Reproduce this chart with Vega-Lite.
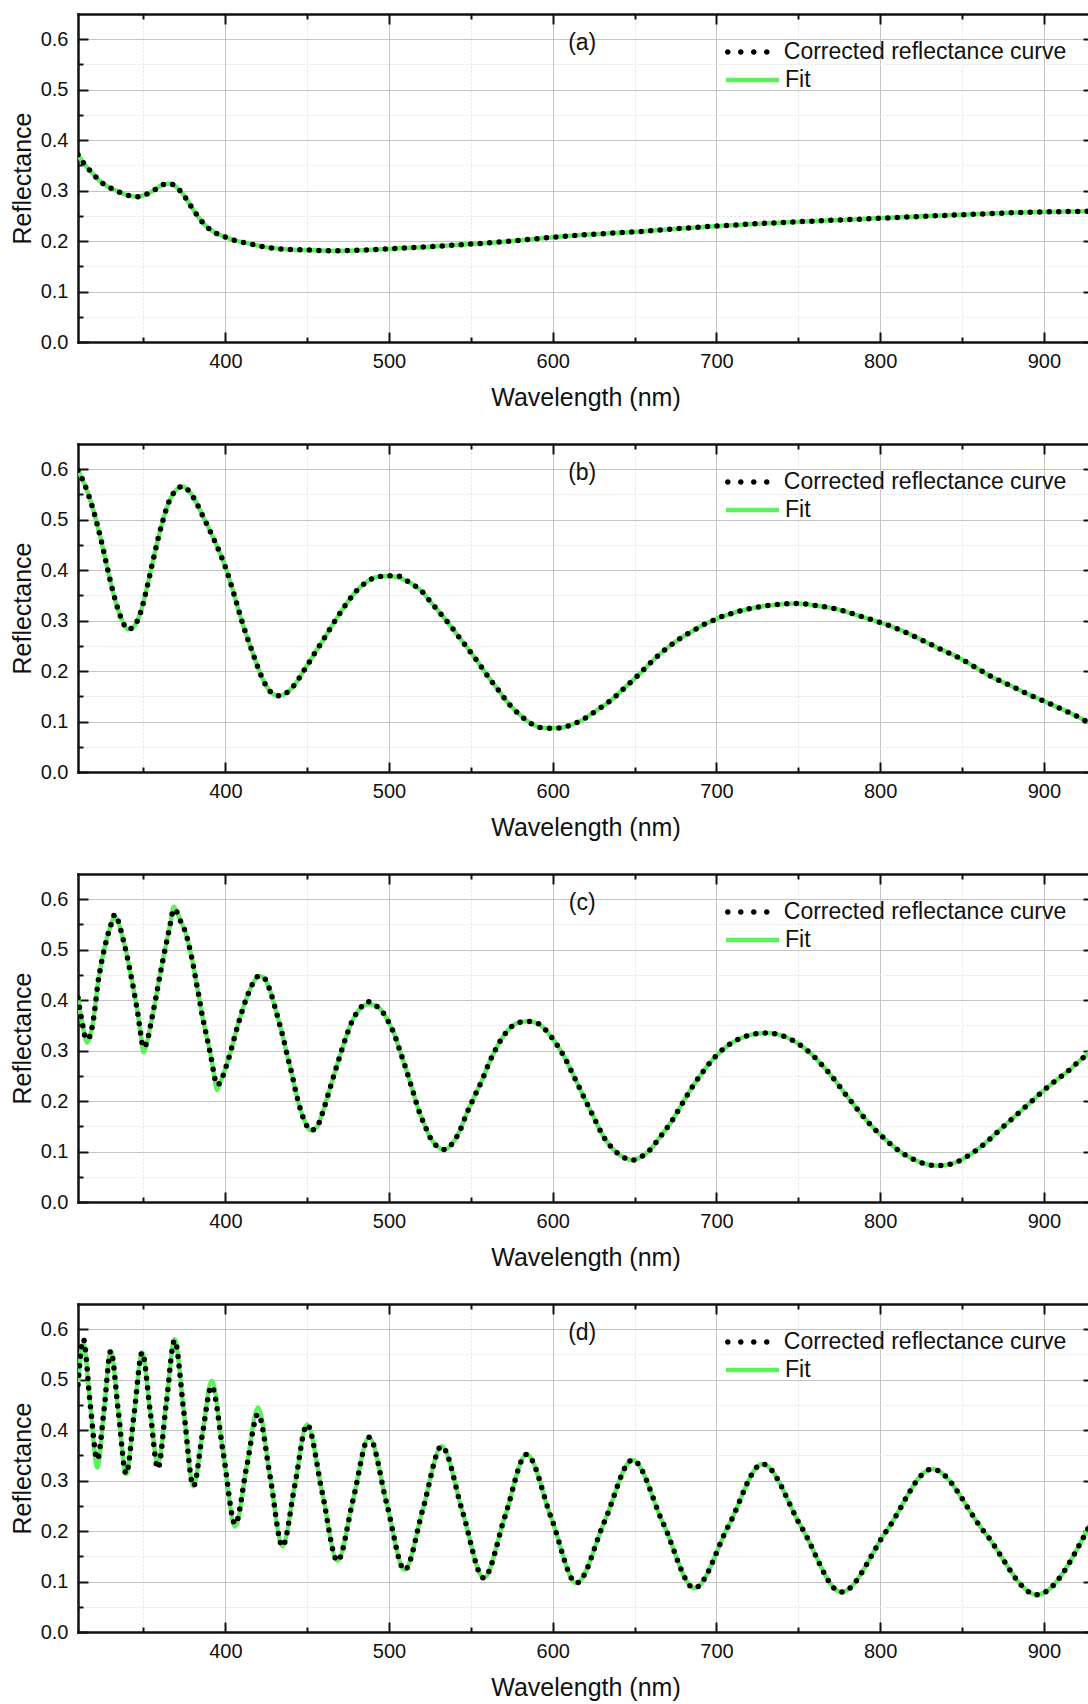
{
  "$schema": "https://vega.github.io/schema/vega-lite/v6.json",
  "background": "white",
  "padding": {"left": 10, "top": 13, "right": 0, "bottom": 0},
  "spacing": 102,
  "bounds": "flush",
  "datasets": {
    "a": [
      {"wl":310,"m":0.371,"f":0.371},{"wl":314,"m":0.352,"f":0.352},{"wl":318.6,"m":0.335,"f":0.335},{"wl":323,"m":0.32,"f":0.32},
      {"wl":328.8,"m":0.307,"f":0.307},{"wl":334,"m":0.299,"f":0.299},{"wl":339,"m":0.292,"f":0.292},{"wl":346,"m":0.288,"f":0.288},
      {"wl":352,"m":0.293,"f":0.293},{"wl":357,"m":0.302,"f":0.302},{"wl":361.3,"m":0.311,"f":0.311},{"wl":366,"m":0.314,"f":0.314},
      {"wl":370.5,"m":0.306,"f":0.306},{"wl":375.6,"m":0.286,"f":0.286},{"wl":379.6,"m":0.266,"f":0.266},{"wl":383.7,"m":0.247,"f":0.247},
      {"wl":387.5,"m":0.232,"f":0.232},{"wl":391.9,"m":0.22,"f":0.22},{"wl":396,"m":0.213,"f":0.213},{"wl":400,"m":0.208,"f":0.208},
      {"wl":406,"m":0.201,"f":0.201},{"wl":413.2,"m":0.196,"f":0.196},{"wl":424.5,"m":0.188,"f":0.188},{"wl":436,"m":0.184,"f":0.184},
      {"wl":453,"m":0.182,"f":0.182},{"wl":465,"m":0.181,"f":0.181},{"wl":484,"m":0.182,"f":0.182},{"wl":502,"m":0.185,"f":0.185},
      {"wl":520,"m":0.188,"f":0.188},{"wl":550,"m":0.194,"f":0.194},{"wl":575,"m":0.2,"f":0.2},{"wl":591.5,"m":0.205,"f":0.205},
      {"wl":612.8,"m":0.211,"f":0.211},{"wl":651,"m":0.2185,"f":0.2185},{"wl":696,"m":0.229,"f":0.229},{"wl":741,"m":0.237,"f":0.237},
      {"wl":784,"m":0.243,"f":0.243},{"wl":805,"m":0.246,"f":0.246},{"wl":848,"m":0.252,"f":0.252},{"wl":890.6,"m":0.257,"f":0.257},
      {"wl":930,"m":0.259,"f":0.259}
    ],
    "b": [
      {"wl":310,"m":0.598,"f":0.598},{"wl":313,"m":0.578,"f":0.578},{"wl":316,"m":0.553,"f":0.553},{"wl":319,"m":0.523,"f":0.523},
      {"wl":322,"m":0.487,"f":0.487},{"wl":325,"m":0.447,"f":0.447},{"wl":328,"m":0.403,"f":0.403},{"wl":331,"m":0.362,"f":0.362},
      {"wl":334,"m":0.327,"f":0.327},{"wl":337,"m":0.3,"f":0.3},{"wl":340.4,"m":0.283,"f":0.283},{"wl":344,"m":0.288,"f":0.288},
      {"wl":348.1,"m":0.315,"f":0.315},{"wl":352.3,"m":0.368,"f":0.368},{"wl":355.5,"m":0.414,"f":0.414},{"wl":359.1,"m":0.465,"f":0.465},
      {"wl":362,"m":0.5,"f":0.5},{"wl":365.5,"m":0.535,"f":0.535},{"wl":369.4,"m":0.557,"f":0.557},{"wl":374,"m":0.566,"f":0.566},
      {"wl":378.9,"m":0.552,"f":0.552},{"wl":382.6,"m":0.532,"f":0.532},{"wl":385.7,"m":0.511,"f":0.511},{"wl":390,"m":0.482,"f":0.482},
      {"wl":393.2,"m":0.46,"f":0.46},{"wl":396.4,"m":0.436,"f":0.436},{"wl":399.6,"m":0.41,"f":0.41},{"wl":402.8,"m":0.379,"f":0.379},
      {"wl":405.5,"m":0.35,"f":0.35},{"wl":409.8,"m":0.302,"f":0.302},{"wl":413,"m":0.27,"f":0.27},{"wl":416.6,"m":0.237,"f":0.237},
      {"wl":419.8,"m":0.208,"f":0.208},{"wl":422,"m":0.19,"f":0.19},{"wl":425.1,"m":0.17,"f":0.17},{"wl":430,"m":0.153,"f":0.153},
      {"wl":433.5,"m":0.151,"f":0.151},{"wl":437,"m":0.156,"f":0.156},{"wl":440,"m":0.164,"f":0.164},{"wl":444.3,"m":0.182,"f":0.182},
      {"wl":448.5,"m":0.204,"f":0.204},{"wl":451.7,"m":0.22,"f":0.22},{"wl":454.9,"m":0.237,"f":0.237},{"wl":459.1,"m":0.258,"f":0.258},
      {"wl":463.4,"m":0.281,"f":0.281},{"wl":467.7,"m":0.303,"f":0.303},{"wl":473,"m":0.329,"f":0.329},{"wl":480.4,"m":0.36,"f":0.36},
      {"wl":485.7,"m":0.375,"f":0.375},{"wl":491,"m":0.385,"f":0.385},{"wl":496.4,"m":0.388,"f":0.388},{"wl":500.6,"m":0.389,"f":0.388},
      {"wl":505,"m":0.389,"f":0.386},{"wl":511.3,"m":0.378,"f":0.378},{"wl":516.6,"m":0.367,"f":0.367},{"wl":520.9,"m":0.355,"f":0.355},
      {"wl":525.1,"m":0.338,"f":0.338},{"wl":530.4,"m":0.318,"f":0.318},{"wl":534.7,"m":0.301,"f":0.301},{"wl":538.9,"m":0.284,"f":0.284},
      {"wl":542.1,"m":0.27,"f":0.27},{"wl":546.4,"m":0.252,"f":0.252},{"wl":550.6,"m":0.234,"f":0.234},{"wl":554.9,"m":0.215,"f":0.215},
      {"wl":558.1,"m":0.2,"f":0.2},{"wl":562.3,"m":0.181,"f":0.181},{"wl":566.6,"m":0.163,"f":0.163},{"wl":569.8,"m":0.149,"f":0.149},
      {"wl":574,"m":0.132,"f":0.132},{"wl":578.3,"m":0.118,"f":0.118},{"wl":583.6,"m":0.103,"f":0.103},{"wl":588.9,"m":0.092,"f":0.092},
      {"wl":594.3,"m":0.087,"f":0.087},{"wl":600.4,"m":0.0867,"f":0.0867},{"wl":606.8,"m":0.0887,"f":0.0887},{"wl":612.2,"m":0.095,"f":0.095},
      {"wl":617.5,"m":0.102,"f":0.102},{"wl":622.8,"m":0.113,"f":0.113},{"wl":628.1,"m":0.125,"f":0.125},{"wl":633.5,"m":0.137,"f":0.137},
      {"wl":637.7,"m":0.148,"f":0.148},{"wl":642,"m":0.161,"f":0.161},{"wl":646.3,"m":0.174,"f":0.174},{"wl":651.6,"m":0.19,"f":0.19},
      {"wl":655.9,"m":0.204,"f":0.204},{"wl":661.2,"m":0.221,"f":0.221},{"wl":665.5,"m":0.234,"f":0.234},{"wl":670.8,"m":0.248,"f":0.248},
      {"wl":676.1,"m":0.261,"f":0.261},{"wl":681.4,"m":0.272,"f":0.272},{"wl":685.7,"m":0.28,"f":0.28},{"wl":691,"m":0.29,"f":0.29},
      {"wl":696.4,"m":0.298,"f":0.298},{"wl":701.7,"m":0.306,"f":0.306},{"wl":708.1,"m":0.313,"f":0.313},{"wl":714.5,"m":0.319,"f":0.319},
      {"wl":720.9,"m":0.324,"f":0.324},{"wl":727.3,"m":0.328,"f":0.328},{"wl":738,"m":0.332,"f":0.332},{"wl":749.7,"m":0.334,"f":0.334},
      {"wl":761.4,"m":0.3295,"f":0.3295},{"wl":773.1,"m":0.323,"f":0.323},{"wl":783.8,"m":0.313,"f":0.313},{"wl":795.5,"m":0.301,"f":0.301},
      {"wl":804,"m":0.292,"f":0.292},{"wl":814.7,"m":0.278,"f":0.278},{"wl":826.4,"m":0.26,"f":0.26},{"wl":837.1,"m":0.243,"f":0.243},
      {"wl":847.7,"m":0.227,"f":0.227},{"wl":858.4,"m":0.207,"f":0.207},{"wl":869.1,"m":0.187,"f":0.187},{"wl":879.7,"m":0.171,"f":0.171},
      {"wl":890.4,"m":0.154,"f":0.154},{"wl":901.1,"m":0.139,"f":0.139},{"wl":911.7,"m":0.1235,"f":0.1235},{"wl":919.2,"m":0.112,"f":0.112},
      {"wl":925.2,"m":0.102,"f":0.102},{"wl":930,"m":0.095,"f":0.095}
    ],
    "c": [
      {"wl":310,"m":0.405,"f":0.405},{"wl":311.3,"m":0.378,"f":0.378},{"wl":312.8,"m":0.352,"f":0.352},{"wl":314,"m":0.331,"f":0.331},
      {"wl":315.6,"m":0.322,"f":0.316},{"wl":317.4,"m":0.33,"f":0.33},{"wl":319.1,"m":0.355,"f":0.355},{"wl":320.6,"m":0.39,"f":0.39},
      {"wl":322,"m":0.43,"f":0.43},{"wl":323.6,"m":0.462,"f":0.462},{"wl":325.3,"m":0.49,"f":0.49},{"wl":327.3,"m":0.518,"f":0.518},
      {"wl":329.8,"m":0.546,"f":0.546},{"wl":332.6,"m":0.57,"f":0.566},{"wl":335.2,"m":0.55,"f":0.55},{"wl":337.6,"m":0.52,"f":0.52},
      {"wl":339.6,"m":0.493,"f":0.493},{"wl":341.3,"m":0.466,"f":0.466},{"wl":343,"m":0.438,"f":0.438},{"wl":344.7,"m":0.408,"f":0.408},
      {"wl":346.6,"m":0.372,"f":0.372},{"wl":348.2,"m":0.335,"f":0.335},{"wl":350,"m":0.306,"f":0.297},{"wl":352.3,"m":0.319,"f":0.319},
      {"wl":354.3,"m":0.35,"f":0.35},{"wl":356,"m":0.378,"f":0.378},{"wl":357.6,"m":0.405,"f":0.405},{"wl":359.2,"m":0.434,"f":0.434},
      {"wl":360.9,"m":0.463,"f":0.463},{"wl":362.5,"m":0.49,"f":0.49},{"wl":364.3,"m":0.518,"f":0.518},{"wl":366.5,"m":0.553,"f":0.553},
      {"wl":368.4,"m":0.58,"f":0.585},{"wl":370.5,"m":0.574,"f":0.574},{"wl":372.5,"m":0.558,"f":0.558},{"wl":375.7,"m":0.534,"f":0.534},
      {"wl":377.6,"m":0.511,"f":0.511},{"wl":379.4,"m":0.485,"f":0.485},{"wl":381.1,"m":0.457,"f":0.457},{"wl":382.5,"m":0.431,"f":0.431},
      {"wl":384,"m":0.405,"f":0.405},{"wl":385.4,"m":0.378,"f":0.378},{"wl":387,"m":0.352,"f":0.352},{"wl":389,"m":0.322,"f":0.322},
      {"wl":391.1,"m":0.29,"f":0.29},{"wl":393,"m":0.255,"f":0.255},{"wl":394.9,"m":0.232,"f":0.222},{"wl":397,"m":0.238,"f":0.238},
      {"wl":399.6,"m":0.26,"f":0.26},{"wl":402.8,"m":0.293,"f":0.293},{"wl":406.4,"m":0.336,"f":0.336},{"wl":410.2,"m":0.378,"f":0.378},
      {"wl":413.4,"m":0.408,"f":0.408},{"wl":416.6,"m":0.432,"f":0.432},{"wl":420.5,"m":0.448,"f":0.448},{"wl":423.5,"m":0.445,"f":0.445},
      {"wl":425.5,"m":0.434,"f":0.434},{"wl":428,"m":0.412,"f":0.412},{"wl":430.4,"m":0.385,"f":0.385},{"wl":432.6,"m":0.359,"f":0.359},
      {"wl":435.3,"m":0.326,"f":0.326},{"wl":438,"m":0.288,"f":0.288},{"wl":440.4,"m":0.257,"f":0.257},{"wl":443,"m":0.219,"f":0.219},
      {"wl":446,"m":0.182,"f":0.182},{"wl":448.5,"m":0.16,"f":0.16},{"wl":452,"m":0.142,"f":0.142},{"wl":456,"m":0.149,"f":0.149},
      {"wl":459.1,"m":0.174,"f":0.174},{"wl":463.8,"m":0.224,"f":0.224},{"wl":468.1,"m":0.27,"f":0.27},{"wl":471,"m":0.3,"f":0.3},
      {"wl":474.7,"m":0.336,"f":0.336},{"wl":478,"m":0.362,"f":0.362},{"wl":481.5,"m":0.38,"f":0.38},{"wl":487.5,"m":0.397,"f":0.392},
      {"wl":492.1,"m":0.389,"f":0.389},{"wl":496.4,"m":0.375,"f":0.375},{"wl":500,"m":0.355,"f":0.355},{"wl":502.8,"m":0.336,"f":0.336},
      {"wl":507,"m":0.296,"f":0.296},{"wl":510.2,"m":0.265,"f":0.265},{"wl":514.5,"m":0.22,"f":0.22},{"wl":517.7,"m":0.186,"f":0.186},
      {"wl":521.9,"m":0.151,"f":0.151},{"wl":525.1,"m":0.128,"f":0.128},{"wl":529.4,"m":0.11,"f":0.11},{"wl":534,"m":0.104,"f":0.104},
      {"wl":538.9,"m":0.117,"f":0.117},{"wl":543.2,"m":0.141,"f":0.141},{"wl":547.4,"m":0.175,"f":0.175},{"wl":551.7,"m":0.206,"f":0.206},
      {"wl":557,"m":0.243,"f":0.243},{"wl":561.3,"m":0.277,"f":0.277},{"wl":565.5,"m":0.305,"f":0.305},{"wl":571.5,"m":0.336,"f":0.336},
      {"wl":577.2,"m":0.353,"f":0.353},{"wl":584,"m":0.358,"f":0.358},{"wl":590,"m":0.355,"f":0.355},{"wl":595.3,"m":0.342,"f":0.342},
      {"wl":599.4,"m":0.326,"f":0.326},{"wl":606.8,"m":0.289,"f":0.289},{"wl":613.2,"m":0.247,"f":0.247},{"wl":619.6,"m":0.204,"f":0.204},
      {"wl":625,"m":0.168,"f":0.168},{"wl":631.3,"m":0.128,"f":0.128},{"wl":637.7,"m":0.102,"f":0.102},{"wl":644.1,"m":0.087,"f":0.087},
      {"wl":648.4,"m":0.083,"f":0.083},{"wl":653.7,"m":0.089,"f":0.089},{"wl":659,"m":0.102,"f":0.102},{"wl":665.4,"m":0.128,"f":0.128},
      {"wl":671.8,"m":0.156,"f":0.156},{"wl":678.2,"m":0.19,"f":0.19},{"wl":684.6,"m":0.225,"f":0.225},{"wl":689.9,"m":0.25,"f":0.25},
      {"wl":698.4,"m":0.285,"f":0.285},{"wl":706.9,"m":0.31,"f":0.31},{"wl":714.4,"m":0.324,"f":0.324},{"wl":722,"m":0.332,"f":0.332},
      {"wl":731,"m":0.335,"f":0.335},{"wl":743.1,"m":0.326,"f":0.326},{"wl":754.8,"m":0.302,"f":0.302},{"wl":767.6,"m":0.26,"f":0.26},
      {"wl":780.4,"m":0.207,"f":0.207},{"wl":793.2,"m":0.156,"f":0.156},{"wl":803.8,"m":0.122,"f":0.122},{"wl":814.5,"m":0.095,"f":0.095},
      {"wl":825.1,"m":0.078,"f":0.078},{"wl":835,"m":0.072,"f":0.072},{"wl":844,"m":0.076,"f":0.076},{"wl":852,"m":0.088,"f":0.088},
      {"wl":862.4,"m":0.112,"f":0.112},{"wl":874.1,"m":0.146,"f":0.146},{"wl":885.8,"m":0.18,"f":0.18},{"wl":895.4,"m":0.208,"f":0.208},
      {"wl":903.9,"m":0.232,"f":0.232},{"wl":914.6,"m":0.259,"f":0.259},{"wl":924.8,"m":0.288,"f":0.288},{"wl":930,"m":0.3,"f":0.3}
    ],
    "d": [
      {"wl":310,"m":0.49,"f":0.49},{"wl":313.3,"m":0.58,"f":0.572},{"wl":317.5,"m":0.45,"f":0.45},{"wl":321.8,"m":0.342,"f":0.326},
      {"wl":325.9,"m":0.44,"f":0.44},{"wl":330,"m":0.557,"f":0.557},{"wl":334.7,"m":0.435,"f":0.435},{"wl":339.4,"m":0.313,"f":0.313},
      {"wl":344.3,"m":0.433,"f":0.433},{"wl":349.2,"m":0.554,"f":0.554},{"wl":354,"m":0.44,"f":0.44},{"wl":358.8,"m":0.324,"f":0.334},
      {"wl":363.9,"m":0.452,"f":0.452},{"wl":369,"m":0.578,"f":0.58},{"wl":374.7,"m":0.435,"f":0.435},{"wl":380.5,"m":0.289,"f":0.289},
      {"wl":386,"m":0.392,"f":0.392},{"wl":391.6,"m":0.487,"f":0.498},{"wl":398.8,"m":0.353,"f":0.353},{"wl":406,"m":0.214,"f":0.209},
      {"wl":413,"m":0.327,"f":0.327},{"wl":420,"m":0.432,"f":0.445},{"wl":427.4,"m":0.307,"f":0.307},{"wl":434.9,"m":0.17,"f":0.17},
      {"wl":442.4,"m":0.29,"f":0.29},{"wl":449.9,"m":0.411,"f":0.411},{"wl":459.2,"m":0.276,"f":0.276},{"wl":468.5,"m":0.141,"f":0.141},
      {"wl":478.1,"m":0.263,"f":0.263},{"wl":487.8,"m":0.386,"f":0.386},{"wl":498.6,"m":0.254,"f":0.254},{"wl":509.5,"m":0.123,"f":0.123},
      {"wl":520.8,"m":0.245,"f":0.245},{"wl":532.1,"m":0.368,"f":0.368},{"wl":545,"m":0.237,"f":0.237},{"wl":557.8,"m":0.107,"f":0.107},
      {"wl":570.9,"m":0.23,"f":0.23},{"wl":584,"m":0.352,"f":0.352},{"wl":599.2,"m":0.225,"f":0.225},{"wl":614.5,"m":0.097,"f":0.097},
      {"wl":631.6,"m":0.219,"f":0.219},{"wl":648.7,"m":0.341,"f":0.341},{"wl":667.6,"m":0.214,"f":0.214},{"wl":686.5,"m":0.087,"f":0.087},
      {"wl":707.3,"m":0.21,"f":0.21},{"wl":728.1,"m":0.333,"f":0.333},{"wl":752.2,"m":0.206,"f":0.206},{"wl":776.2,"m":0.079,"f":0.079},
      {"wl":804,"m":0.201,"f":0.201},{"wl":831.7,"m":0.323,"f":0.323},{"wl":863.7,"m":0.198,"f":0.198},{"wl":895.7,"m":0.074,"f":0.074},
      {"wl":926.3,"m":0.201,"f":0.201},{"wl":930,"m":0.225,"f":0.225}
    ]
  },
  "vconcat": [
    {
      "width": 1015, "height": 328,
      "data": {"name": "a"},
      "layer": [
        {
          "mark": {"type": "line", "interpolate": "monotone", "strokeWidth": 4.5, "strokeCap": "round", "clip": true},
          "encoding": {
            "x": {"field": "wl", "type": "quantitative", "scale": {"domain": [310, 930], "nice": false, "zero": false},
              "axis": {"orient": "bottom", "values": [350,400,450,500,550,600,650,700,750,800,850,900], "title": "Wavelength (nm)", "format": "d",
                "labelExpr": "datum.value % 100 === 0 ? datum.label : ''", "grid": true,
                "gridColor": {"condition": {"test": "datum.value % 100 === 0", "value": "#c4c4c4"}, "value": "#e3e3e3"},
                "gridDash": {"condition": {"test": "datum.value % 100 === 0", "value": []}, "value": [2, 2]},
                "tickSize": {"condition": {"test": "datum.value % 100 === 0", "value": -10}, "value": -5},
                "labelPadding": 19.5, "titlePadding": 9}},
            "y": {"field": "f", "type": "quantitative", "scale": {"domain": [0, 0.65], "nice": false, "zero": false},
              "axis": {"orient": "left", "values": [0,0.05,0.1,0.15,0.2,0.25,0.3,0.35,0.4,0.45,0.5,0.55,0.6], "title": "Reflectance", "format": ".1f",
                "labelExpr": "abs(datum.value*10-round(datum.value*10)) < 0.01 ? datum.label : ''", "grid": true,
                "gridColor": {"condition": {"test": "abs(datum.value*10-round(datum.value*10)) < 0.01", "value": "#c4c4c4"}, "value": "#e3e3e3"},
                "gridDash": {"condition": {"test": "abs(datum.value*10-round(datum.value*10)) < 0.01", "value": []}, "value": [2, 2]},
                "tickSize": {"condition": {"test": "abs(datum.value*10-round(datum.value*10)) < 0.01", "value": -10}, "value": -5},
                "labelPadding": 20, "titlePadding": 5}},
            "color": {"datum": "Fit", "type": "nominal", "scale": {"range": ["#5cf25c"]},
              "legend": {"orient": "none", "legendX": 645.5, "legendY": 37, "title": null, "padding": 0, "labelLimit": 0,
                "symbolType": "stroke", "symbolSize": 2809, "symbolStrokeWidth": 4.5, "symbolOffset": 0, "labelOffset": 3.5}}
          }
        },
        {
          "mark": {"type": "line", "interpolate": "monotone", "strokeWidth": 5.5, "strokeCap": "round", "strokeDash": [0, 9.5], "clip": true},
          "encoding": {
            "x": {"field": "wl", "type": "quantitative",
              "axis": {"orient": "top", "values": [350,400,450,500,550,600,650,700,750,800,850,900], "labels": false, "grid": false, "title": null,
                "tickSize": {"condition": {"test": "datum.value % 100 === 0", "value": -10}, "value": -5}}},
            "y": {"field": "m", "type": "quantitative",
              "axis": {"orient": "right", "values": [0,0.05,0.1,0.15,0.2,0.25,0.3,0.35,0.4,0.45,0.5,0.55,0.6], "labels": false, "grid": false, "title": null,
                "tickSize": {"condition": {"test": "abs(datum.value*10-round(datum.value*10)) < 0.01", "value": -10}, "value": -5}}},
            "stroke": {"datum": "Corrected reflectance curve", "type": "nominal", "scale": {"range": ["#000000"]},
              "legend": {"orient": "none", "legendX": 648, "legendY": 26.5, "title": null, "padding": 0, "labelLimit": 0,
                "symbolType": "M-2.23,0a0.28,0.28 0 1,0 0.56,0a0.28,0.28 0 1,0 -0.56,0M-0.93,0a0.28,0.28 0 1,0 0.56,0a0.28,0.28 0 1,0 -0.56,0M0.37,0a0.28,0.28 0 1,0 0.56,0a0.28,0.28 0 1,0 -0.56,0M1.67,0a0.28,0.28 0 1,0 0.56,0a0.28,0.28 0 1,0 -0.56,0",
                "symbolSize": 400, "symbolStrokeWidth": 0, "symbolFillColor": "#000000", "symbolOffset": 9.8, "labelOffset": 25}}
          }
        },
        {
          "data": {"values": [{"label": "(a)"}]},
          "mark": {"type": "text", "fontSize": 23, "align": "center", "baseline": "middle", "fill": "#111111"},
          "encoding": {
            "x": {"datum": 618, "type": "quantitative", "axis": null},
            "y": {"datum": 0.593, "type": "quantitative", "axis": null},
            "text": {"field": "label"}
          }
        }
      ],
      "resolve": {"axis": {"x": "independent", "y": "independent"}}
    },
    {
      "width": 1015, "height": 328,
      "data": {"name": "b"},
      "layer": [
        {
          "mark": {"type": "line", "interpolate": "monotone", "strokeWidth": 4.5, "strokeCap": "round", "clip": true},
          "encoding": {
            "x": {"field": "wl", "type": "quantitative", "scale": {"domain": [310, 930], "nice": false, "zero": false},
              "axis": {"orient": "bottom", "values": [350,400,450,500,550,600,650,700,750,800,850,900], "title": "Wavelength (nm)", "format": "d",
                "labelExpr": "datum.value % 100 === 0 ? datum.label : ''", "grid": true,
                "gridColor": {"condition": {"test": "datum.value % 100 === 0", "value": "#c4c4c4"}, "value": "#e3e3e3"},
                "gridDash": {"condition": {"test": "datum.value % 100 === 0", "value": []}, "value": [2, 2]},
                "tickSize": {"condition": {"test": "datum.value % 100 === 0", "value": -10}, "value": -5},
                "labelPadding": 19.5, "titlePadding": 9}},
            "y": {"field": "f", "type": "quantitative", "scale": {"domain": [0, 0.65], "nice": false, "zero": false},
              "axis": {"orient": "left", "values": [0,0.05,0.1,0.15,0.2,0.25,0.3,0.35,0.4,0.45,0.5,0.55,0.6], "title": "Reflectance", "format": ".1f",
                "labelExpr": "abs(datum.value*10-round(datum.value*10)) < 0.01 ? datum.label : ''", "grid": true,
                "gridColor": {"condition": {"test": "abs(datum.value*10-round(datum.value*10)) < 0.01", "value": "#c4c4c4"}, "value": "#e3e3e3"},
                "gridDash": {"condition": {"test": "abs(datum.value*10-round(datum.value*10)) < 0.01", "value": []}, "value": [2, 2]},
                "tickSize": {"condition": {"test": "abs(datum.value*10-round(datum.value*10)) < 0.01", "value": -10}, "value": -5},
                "labelPadding": 20, "titlePadding": 5}},
            "color": {"datum": "Fit", "type": "nominal", "scale": {"range": ["#5cf25c"]},
              "legend": {"orient": "none", "legendX": 645.5, "legendY": 37, "title": null, "padding": 0, "labelLimit": 0,
                "symbolType": "stroke", "symbolSize": 2809, "symbolStrokeWidth": 4.5, "symbolOffset": 0, "labelOffset": 3.5}}
          }
        },
        {
          "mark": {"type": "line", "interpolate": "monotone", "strokeWidth": 5.5, "strokeCap": "round", "strokeDash": [0, 9.5], "clip": true},
          "encoding": {
            "x": {"field": "wl", "type": "quantitative",
              "axis": {"orient": "top", "values": [350,400,450,500,550,600,650,700,750,800,850,900], "labels": false, "grid": false, "title": null,
                "tickSize": {"condition": {"test": "datum.value % 100 === 0", "value": -10}, "value": -5}}},
            "y": {"field": "m", "type": "quantitative",
              "axis": {"orient": "right", "values": [0,0.05,0.1,0.15,0.2,0.25,0.3,0.35,0.4,0.45,0.5,0.55,0.6], "labels": false, "grid": false, "title": null,
                "tickSize": {"condition": {"test": "abs(datum.value*10-round(datum.value*10)) < 0.01", "value": -10}, "value": -5}}},
            "stroke": {"datum": "Corrected reflectance curve", "type": "nominal", "scale": {"range": ["#000000"]},
              "legend": {"orient": "none", "legendX": 648, "legendY": 26.5, "title": null, "padding": 0, "labelLimit": 0,
                "symbolType": "M-2.23,0a0.28,0.28 0 1,0 0.56,0a0.28,0.28 0 1,0 -0.56,0M-0.93,0a0.28,0.28 0 1,0 0.56,0a0.28,0.28 0 1,0 -0.56,0M0.37,0a0.28,0.28 0 1,0 0.56,0a0.28,0.28 0 1,0 -0.56,0M1.67,0a0.28,0.28 0 1,0 0.56,0a0.28,0.28 0 1,0 -0.56,0",
                "symbolSize": 400, "symbolStrokeWidth": 0, "symbolFillColor": "#000000", "symbolOffset": 9.8, "labelOffset": 25}}
          }
        },
        {
          "data": {"values": [{"label": "(b)"}]},
          "mark": {"type": "text", "fontSize": 23, "align": "center", "baseline": "middle", "fill": "#111111"},
          "encoding": {
            "x": {"datum": 618, "type": "quantitative", "axis": null},
            "y": {"datum": 0.593, "type": "quantitative", "axis": null},
            "text": {"field": "label"}
          }
        }
      ],
      "resolve": {"axis": {"x": "independent", "y": "independent"}}
    },
    {
      "width": 1015, "height": 328,
      "data": {"name": "c"},
      "layer": [
        {
          "mark": {"type": "line", "interpolate": "monotone", "strokeWidth": 4.5, "strokeCap": "round", "clip": true},
          "encoding": {
            "x": {"field": "wl", "type": "quantitative", "scale": {"domain": [310, 930], "nice": false, "zero": false},
              "axis": {"orient": "bottom", "values": [350,400,450,500,550,600,650,700,750,800,850,900], "title": "Wavelength (nm)", "format": "d",
                "labelExpr": "datum.value % 100 === 0 ? datum.label : ''", "grid": true,
                "gridColor": {"condition": {"test": "datum.value % 100 === 0", "value": "#c4c4c4"}, "value": "#e3e3e3"},
                "gridDash": {"condition": {"test": "datum.value % 100 === 0", "value": []}, "value": [2, 2]},
                "tickSize": {"condition": {"test": "datum.value % 100 === 0", "value": -10}, "value": -5},
                "labelPadding": 19.5, "titlePadding": 9}},
            "y": {"field": "f", "type": "quantitative", "scale": {"domain": [0, 0.65], "nice": false, "zero": false},
              "axis": {"orient": "left", "values": [0,0.05,0.1,0.15,0.2,0.25,0.3,0.35,0.4,0.45,0.5,0.55,0.6], "title": "Reflectance", "format": ".1f",
                "labelExpr": "abs(datum.value*10-round(datum.value*10)) < 0.01 ? datum.label : ''", "grid": true,
                "gridColor": {"condition": {"test": "abs(datum.value*10-round(datum.value*10)) < 0.01", "value": "#c4c4c4"}, "value": "#e3e3e3"},
                "gridDash": {"condition": {"test": "abs(datum.value*10-round(datum.value*10)) < 0.01", "value": []}, "value": [2, 2]},
                "tickSize": {"condition": {"test": "abs(datum.value*10-round(datum.value*10)) < 0.01", "value": -10}, "value": -5},
                "labelPadding": 20, "titlePadding": 5}},
            "color": {"datum": "Fit", "type": "nominal", "scale": {"range": ["#5cf25c"]},
              "legend": {"orient": "none", "legendX": 645.5, "legendY": 37, "title": null, "padding": 0, "labelLimit": 0,
                "symbolType": "stroke", "symbolSize": 2809, "symbolStrokeWidth": 4.5, "symbolOffset": 0, "labelOffset": 3.5}}
          }
        },
        {
          "mark": {"type": "line", "interpolate": "monotone", "strokeWidth": 5.5, "strokeCap": "round", "strokeDash": [0, 9.5], "clip": true},
          "encoding": {
            "x": {"field": "wl", "type": "quantitative",
              "axis": {"orient": "top", "values": [350,400,450,500,550,600,650,700,750,800,850,900], "labels": false, "grid": false, "title": null,
                "tickSize": {"condition": {"test": "datum.value % 100 === 0", "value": -10}, "value": -5}}},
            "y": {"field": "m", "type": "quantitative",
              "axis": {"orient": "right", "values": [0,0.05,0.1,0.15,0.2,0.25,0.3,0.35,0.4,0.45,0.5,0.55,0.6], "labels": false, "grid": false, "title": null,
                "tickSize": {"condition": {"test": "abs(datum.value*10-round(datum.value*10)) < 0.01", "value": -10}, "value": -5}}},
            "stroke": {"datum": "Corrected reflectance curve", "type": "nominal", "scale": {"range": ["#000000"]},
              "legend": {"orient": "none", "legendX": 648, "legendY": 26.5, "title": null, "padding": 0, "labelLimit": 0,
                "symbolType": "M-2.23,0a0.28,0.28 0 1,0 0.56,0a0.28,0.28 0 1,0 -0.56,0M-0.93,0a0.28,0.28 0 1,0 0.56,0a0.28,0.28 0 1,0 -0.56,0M0.37,0a0.28,0.28 0 1,0 0.56,0a0.28,0.28 0 1,0 -0.56,0M1.67,0a0.28,0.28 0 1,0 0.56,0a0.28,0.28 0 1,0 -0.56,0",
                "symbolSize": 400, "symbolStrokeWidth": 0, "symbolFillColor": "#000000", "symbolOffset": 9.8, "labelOffset": 25}}
          }
        },
        {
          "data": {"values": [{"label": "(c)"}]},
          "mark": {"type": "text", "fontSize": 23, "align": "center", "baseline": "middle", "fill": "#111111"},
          "encoding": {
            "x": {"datum": 618, "type": "quantitative", "axis": null},
            "y": {"datum": 0.593, "type": "quantitative", "axis": null},
            "text": {"field": "label"}
          }
        }
      ],
      "resolve": {"axis": {"x": "independent", "y": "independent"}}
    },
    {
      "width": 1015, "height": 328,
      "data": {"name": "d"},
      "layer": [
        {
          "mark": {"type": "line", "interpolate": "monotone", "strokeWidth": 4.5, "strokeCap": "round", "clip": true},
          "encoding": {
            "x": {"field": "wl", "type": "quantitative", "scale": {"domain": [310, 930], "nice": false, "zero": false},
              "axis": {"orient": "bottom", "values": [350,400,450,500,550,600,650,700,750,800,850,900], "title": "Wavelength (nm)", "format": "d",
                "labelExpr": "datum.value % 100 === 0 ? datum.label : ''", "grid": true,
                "gridColor": {"condition": {"test": "datum.value % 100 === 0", "value": "#c4c4c4"}, "value": "#e3e3e3"},
                "gridDash": {"condition": {"test": "datum.value % 100 === 0", "value": []}, "value": [2, 2]},
                "tickSize": {"condition": {"test": "datum.value % 100 === 0", "value": -10}, "value": -5},
                "labelPadding": 19.5, "titlePadding": 9}},
            "y": {"field": "f", "type": "quantitative", "scale": {"domain": [0, 0.65], "nice": false, "zero": false},
              "axis": {"orient": "left", "values": [0,0.05,0.1,0.15,0.2,0.25,0.3,0.35,0.4,0.45,0.5,0.55,0.6], "title": "Reflectance", "format": ".1f",
                "labelExpr": "abs(datum.value*10-round(datum.value*10)) < 0.01 ? datum.label : ''", "grid": true,
                "gridColor": {"condition": {"test": "abs(datum.value*10-round(datum.value*10)) < 0.01", "value": "#c4c4c4"}, "value": "#e3e3e3"},
                "gridDash": {"condition": {"test": "abs(datum.value*10-round(datum.value*10)) < 0.01", "value": []}, "value": [2, 2]},
                "tickSize": {"condition": {"test": "abs(datum.value*10-round(datum.value*10)) < 0.01", "value": -10}, "value": -5},
                "labelPadding": 20, "titlePadding": 5}},
            "color": {"datum": "Fit", "type": "nominal", "scale": {"range": ["#5cf25c"]},
              "legend": {"orient": "none", "legendX": 645.5, "legendY": 37, "title": null, "padding": 0, "labelLimit": 0,
                "symbolType": "stroke", "symbolSize": 2809, "symbolStrokeWidth": 4.5, "symbolOffset": 0, "labelOffset": 3.5}}
          }
        },
        {
          "mark": {"type": "line", "interpolate": "monotone", "strokeWidth": 5.5, "strokeCap": "round", "strokeDash": [0, 9.5], "clip": true},
          "encoding": {
            "x": {"field": "wl", "type": "quantitative",
              "axis": {"orient": "top", "values": [350,400,450,500,550,600,650,700,750,800,850,900], "labels": false, "grid": false, "title": null,
                "tickSize": {"condition": {"test": "datum.value % 100 === 0", "value": -10}, "value": -5}}},
            "y": {"field": "m", "type": "quantitative",
              "axis": {"orient": "right", "values": [0,0.05,0.1,0.15,0.2,0.25,0.3,0.35,0.4,0.45,0.5,0.55,0.6], "labels": false, "grid": false, "title": null,
                "tickSize": {"condition": {"test": "abs(datum.value*10-round(datum.value*10)) < 0.01", "value": -10}, "value": -5}}},
            "stroke": {"datum": "Corrected reflectance curve", "type": "nominal", "scale": {"range": ["#000000"]},
              "legend": {"orient": "none", "legendX": 648, "legendY": 26.5, "title": null, "padding": 0, "labelLimit": 0,
                "symbolType": "M-2.23,0a0.28,0.28 0 1,0 0.56,0a0.28,0.28 0 1,0 -0.56,0M-0.93,0a0.28,0.28 0 1,0 0.56,0a0.28,0.28 0 1,0 -0.56,0M0.37,0a0.28,0.28 0 1,0 0.56,0a0.28,0.28 0 1,0 -0.56,0M1.67,0a0.28,0.28 0 1,0 0.56,0a0.28,0.28 0 1,0 -0.56,0",
                "symbolSize": 400, "symbolStrokeWidth": 0, "symbolFillColor": "#000000", "symbolOffset": 9.8, "labelOffset": 25}}
          }
        },
        {
          "data": {"values": [{"label": "(d)"}]},
          "mark": {"type": "text", "fontSize": 23, "align": "center", "baseline": "middle", "fill": "#111111"},
          "encoding": {
            "x": {"datum": 618, "type": "quantitative", "axis": null},
            "y": {"datum": 0.593, "type": "quantitative", "axis": null},
            "text": {"field": "label"}
          }
        }
      ],
      "resolve": {"axis": {"x": "independent", "y": "independent"}}
    }
  ],
  "resolve": {
    "scale": {"x": "independent", "y": "independent", "color": "independent", "stroke": "independent"},
    "legend": {"color": "independent", "stroke": "independent"}
  },
  "config": {
    "font": "Liberation Sans",
    "view": {"stroke": null},
    "text": {"font": "Liberation Sans"},
    "axis": {
      "labelFont": "Liberation Sans", "titleFont": "Liberation Sans", "labelFontSize": 20, "titleFontSize": 25,
      "titleFontWeight": "normal", "labelColor": "#111111", "titleColor": "#111111",
      "tickColor": "#111111", "tickWidth": 2, "domain": true, "domainColor": "#111111", "domainWidth": 2.5, "domainCap": "square",
      "labelFlush": false, "labelOverlap": false
    },
    "legend": {"labelFont": "Liberation Sans", "labelFontSize": 23, "labelColor": "#111111"}
  }
}
